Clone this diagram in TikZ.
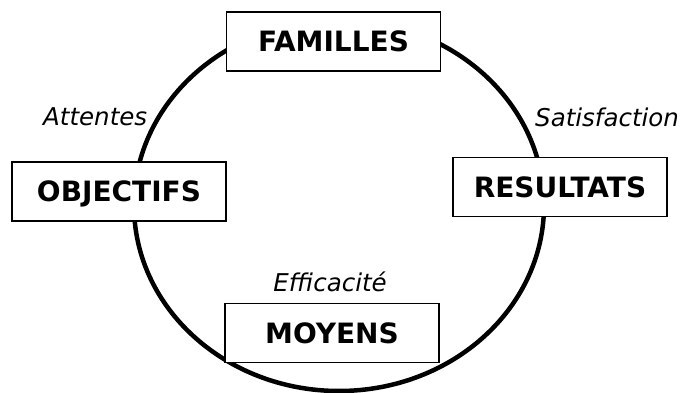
\documentclass[tikz,border=0pt]{standalone}
\usepackage{fontspec}
\setmainfont{DejaVu Sans}
\begin{document}
\begin{tikzpicture}[x=1pt,y=-1pt,
  box/.style={draw=black,line width=1.2pt,fill=white,minimum width=214pt,minimum height=59pt,
    inner sep=0pt,text height=20.4pt,text depth=0pt,font=\fontsize{28}{33}\selectfont\bfseries},
  lbl/.style={inner sep=0pt,anchor=base west,font=\fontsize{24.5}{29}\selectfont\itshape}]
\useasboundingbox[fill=white] (0,0) rectangle (686,393);
\draw[line width=4.5pt] (339,205.5) ellipse [x radius=205pt, y radius=185.5pt];
\node[box] (fam) at (333.5,41.5) {FAMILLES};
\node[box] (obj) at (119,191.5) {OBJECTIFS};
\node[box] (res) at (560,187) {RESULTATS};
\node[box] (moy) at (332,333) {MOYENS};
\node[lbl] (att) at (43,126) {Attentes};
\node[lbl] (sat) at (535,127) {Satisfaction};
\node[lbl,anchor=base] (eff) at (330,291) {Efficacité};
\end{tikzpicture}
\end{document}
